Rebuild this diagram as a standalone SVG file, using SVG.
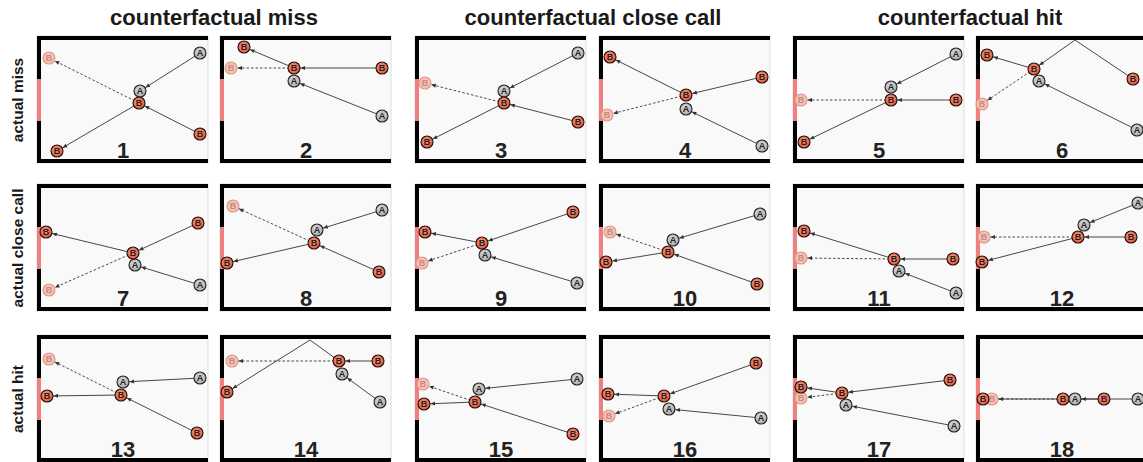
<svg xmlns="http://www.w3.org/2000/svg" width="1143" height="462" viewBox="0 0 1143 462">
<style>
.hd{font-family:"Liberation Sans",Arial,sans-serif;font-weight:bold;font-size:22px;fill:#1a1a1a;text-anchor:middle}
.rl{font-family:"Liberation Sans",Arial,sans-serif;font-weight:bold;font-size:15.5px;fill:#1a1a1a;text-anchor:middle}
.num{font-family:"Liberation Sans",Arial,sans-serif;font-weight:bold;font-size:22px;fill:#222;text-anchor:middle}
.bg{fill:#f9f9f9;stroke:#d4d4d4;stroke-width:0.8}
.wall{fill:#000}
.goal{fill:#f08080}
.c{fill:none;stroke:#333;stroke-width:0.9}
.d{fill:none;stroke:#333;stroke-width:0.9;stroke-dasharray:2.5 2}
.nA circle{fill:url(#gA);stroke:#222;stroke-width:1.1}
.nB circle{fill:url(#gB);stroke:#1d0f0c;stroke-width:1.1}
.nF circle{fill:#f6c2b5;stroke:#df9686;stroke-width:1.1}
.nA text,.nB text,.nF text{font-family:"Liberation Sans",Arial,sans-serif;font-weight:bold;font-size:9px;text-anchor:middle}
.nA text,.nB text{fill:#222}
.nF text{fill:#c48d82}
</style>
<defs>
<radialGradient id="gB" cx="0.45" cy="0.4" r="0.6"><stop offset="0" stop-color="#fa9a82"/><stop offset="1" stop-color="#ea5535"/></radialGradient>
<radialGradient id="gA" cx="0.45" cy="0.4" r="0.6"><stop offset="0" stop-color="#dedede"/><stop offset="1" stop-color="#a9a9a9"/></radialGradient>
<marker id="ah" markerUnits="userSpaceOnUse" orient="auto" overflow="visible" refX="0" refY="0" markerWidth="1" markerHeight="1">
<path d="M-6.5,0 L-11,-2 L-11,2 Z" fill="#333"/>
</marker>
</defs>

<g id="headers">
<text class="hd" x="214" y="25">counterfactual miss</text>
<text class="hd" x="593" y="25">counterfactual close call</text>
<text class="hd" x="970" y="25">counterfactual hit</text>
<text class="rl" transform="translate(23,100) rotate(-90)">actual miss</text>
<text class="rl" transform="translate(23,248) rotate(-90)">actual close call</text>
<text class="rl" transform="translate(23,399) rotate(-90)">actual hit</text>
</g>

<g id="frames">
<g id="f1"><rect class="bg" x="37" y="36" width="171" height="127"/><rect class="wall" x="37" y="36" width="171" height="4"/><rect class="wall" x="37" y="159" width="171" height="4"/><rect class="wall" x="37" y="36" width="4" height="127"/><rect class="goal" x="37" y="79" width="4" height="42"/><text class="num" x="123" y="158">1</text></g>
<g id="f2"><rect class="bg" x="220" y="36" width="171" height="127"/><rect class="wall" x="220" y="36" width="171" height="4"/><rect class="wall" x="220" y="159" width="171" height="4"/><rect class="wall" x="220" y="36" width="4" height="127"/><rect class="goal" x="220" y="79" width="4" height="42"/><text class="num" x="306" y="158">2</text></g>
<g id="f3"><rect class="bg" x="415" y="36" width="171" height="127"/><rect class="wall" x="415" y="36" width="171" height="4"/><rect class="wall" x="415" y="159" width="171" height="4"/><rect class="wall" x="415" y="36" width="4" height="127"/><rect class="goal" x="415" y="79" width="4" height="42"/><text class="num" x="501" y="158">3</text></g>
<g id="f4"><rect class="bg" x="599" y="36" width="171" height="127"/><rect class="wall" x="599" y="36" width="171" height="4"/><rect class="wall" x="599" y="159" width="171" height="4"/><rect class="wall" x="599" y="36" width="4" height="127"/><rect class="goal" x="599" y="79" width="4" height="42"/><text class="num" x="685" y="158">4</text></g>
<g id="f5"><rect class="bg" x="793" y="36" width="171" height="127"/><rect class="wall" x="793" y="36" width="171" height="4"/><rect class="wall" x="793" y="159" width="171" height="4"/><rect class="wall" x="793" y="36" width="4" height="127"/><rect class="goal" x="793" y="79" width="4" height="42"/><text class="num" x="879" y="158">5</text></g>
<g id="f6"><rect class="bg" x="976" y="36" width="171" height="127"/><rect class="wall" x="976" y="36" width="171" height="4"/><rect class="wall" x="976" y="159" width="171" height="4"/><rect class="wall" x="976" y="36" width="4" height="127"/><rect class="goal" x="976" y="79" width="4" height="42"/><text class="num" x="1062" y="158">6</text></g>

<g id="f7"><rect class="bg" x="37" y="184" width="171" height="127"/><rect class="wall" x="37" y="184" width="171" height="4"/><rect class="wall" x="37" y="307" width="171" height="4"/><rect class="wall" x="37" y="184" width="4" height="127"/><rect class="goal" x="37" y="227" width="4" height="42"/><text class="num" x="123" y="306">7</text></g>
<g id="f8"><rect class="bg" x="220" y="184" width="171" height="127"/><rect class="wall" x="220" y="184" width="171" height="4"/><rect class="wall" x="220" y="307" width="171" height="4"/><rect class="wall" x="220" y="184" width="4" height="127"/><rect class="goal" x="220" y="227" width="4" height="42"/><text class="num" x="306" y="306">8</text></g>
<g id="f9"><rect class="bg" x="415" y="184" width="171" height="127"/><rect class="wall" x="415" y="184" width="171" height="4"/><rect class="wall" x="415" y="307" width="171" height="4"/><rect class="wall" x="415" y="184" width="4" height="127"/><rect class="goal" x="415" y="227" width="4" height="42"/><text class="num" x="501" y="306">9</text></g>
<g id="f10"><rect class="bg" x="599" y="184" width="171" height="127"/><rect class="wall" x="599" y="184" width="171" height="4"/><rect class="wall" x="599" y="307" width="171" height="4"/><rect class="wall" x="599" y="184" width="4" height="127"/><rect class="goal" x="599" y="227" width="4" height="42"/><text class="num" x="685" y="306">10</text></g>
<g id="f11"><rect class="bg" x="793" y="184" width="171" height="127"/><rect class="wall" x="793" y="184" width="171" height="4"/><rect class="wall" x="793" y="307" width="171" height="4"/><rect class="wall" x="793" y="184" width="4" height="127"/><rect class="goal" x="793" y="227" width="4" height="42"/><text class="num" x="879" y="306">11</text></g>
<g id="f12"><rect class="bg" x="976" y="184" width="171" height="127"/><rect class="wall" x="976" y="184" width="171" height="4"/><rect class="wall" x="976" y="307" width="171" height="4"/><rect class="wall" x="976" y="184" width="4" height="127"/><rect class="goal" x="976" y="227" width="4" height="42"/><text class="num" x="1062" y="306">12</text></g>

<g id="f13"><rect class="bg" x="37" y="335" width="171" height="127"/><rect class="wall" x="37" y="335" width="171" height="4"/><rect class="wall" x="37" y="458" width="171" height="4"/><rect class="wall" x="37" y="335" width="4" height="127"/><rect class="goal" x="37" y="378" width="4" height="42"/><text class="num" x="123" y="457">13</text></g>
<g id="f14"><rect class="bg" x="220" y="335" width="171" height="127"/><rect class="wall" x="220" y="335" width="171" height="4"/><rect class="wall" x="220" y="458" width="171" height="4"/><rect class="wall" x="220" y="335" width="4" height="127"/><rect class="goal" x="220" y="378" width="4" height="42"/><text class="num" x="306" y="457">14</text></g>
<g id="f15"><rect class="bg" x="415" y="335" width="171" height="127"/><rect class="wall" x="415" y="335" width="171" height="4"/><rect class="wall" x="415" y="458" width="171" height="4"/><rect class="wall" x="415" y="335" width="4" height="127"/><rect class="goal" x="415" y="378" width="4" height="42"/><text class="num" x="501" y="457">15</text></g>
<g id="f16"><rect class="bg" x="599" y="335" width="171" height="127"/><rect class="wall" x="599" y="335" width="171" height="4"/><rect class="wall" x="599" y="458" width="171" height="4"/><rect class="wall" x="599" y="335" width="4" height="127"/><rect class="goal" x="599" y="378" width="4" height="42"/><text class="num" x="685" y="457">16</text></g>
<g id="f17"><rect class="bg" x="793" y="335" width="171" height="127"/><rect class="wall" x="793" y="335" width="171" height="4"/><rect class="wall" x="793" y="458" width="171" height="4"/><rect class="wall" x="793" y="335" width="4" height="127"/><rect class="goal" x="793" y="378" width="4" height="42"/><text class="num" x="879" y="457">17</text></g>
<g id="f18"><rect class="bg" x="976" y="335" width="171" height="127"/><rect class="wall" x="976" y="335" width="171" height="4"/><rect class="wall" x="976" y="458" width="171" height="4"/><rect class="wall" x="976" y="335" width="4" height="127"/><rect class="goal" x="976" y="378" width="4" height="42"/><text class="num" x="1062" y="457">18</text></g>
</g>

<g id="connectors">
<path class="c" d="M200,53 L140,91" marker-end="url(#ah)"/><path class="c" d="M200,134 L139,103" marker-end="url(#ah)"/><path class="c" d="M139,103 L57,151" marker-end="url(#ah)"/><path class="d" d="M139,103 L49,58" marker-end="url(#ah)"/>
<path class="c" d="M382,116 L294,81" marker-end="url(#ah)"/><path class="c" d="M382,68 L294,68" marker-end="url(#ah)"/><path class="c" d="M294,68 L244,47" marker-end="url(#ah)"/><path class="d" d="M294,68 L231,68" marker-end="url(#ah)"/>
<path class="c" d="M578,53 L504,91" marker-end="url(#ah)"/><path class="c" d="M578,122 L504,103" marker-end="url(#ah)"/><path class="c" d="M504,103 L427,142" marker-end="url(#ah)"/><path class="d" d="M504,103 L425,83" marker-end="url(#ah)"/>
<path class="c" d="M762,146 L686,109" marker-end="url(#ah)"/><path class="c" d="M762,77 L686,95" marker-end="url(#ah)"/><path class="c" d="M686,95 L610,57" marker-end="url(#ah)"/><path class="d" d="M686,95 L607,115" marker-end="url(#ah)"/>
<path class="c" d="M956,54 L891,87" marker-end="url(#ah)"/><path class="c" d="M956,100 L891,100" marker-end="url(#ah)"/><path class="c" d="M891,100 L804,142" marker-end="url(#ah)"/><path class="d" d="M891,100 L801,100" marker-end="url(#ah)"/>
<path class="c" d="M1137,130 L1039,81" marker-end="url(#ah)"/><path class="c" d="M1133,79 L1075,40 L1034,69" marker-end="url(#ah)"/><path class="c" d="M1034,69 L987,55" marker-end="url(#ah)"/><path class="d" d="M1034,69 L982,104" marker-end="url(#ah)"/>

<path class="c" d="M200,285 L135,265" marker-end="url(#ah)"/><path class="c" d="M198,223 L133,253" marker-end="url(#ah)"/><path class="c" d="M133,253 L46,232" marker-end="url(#ah)"/><path class="d" d="M133,253 L49,290" marker-end="url(#ah)"/>
<path class="c" d="M382,210 L317,230" marker-end="url(#ah)"/><path class="c" d="M379,272 L314,243" marker-end="url(#ah)"/><path class="c" d="M314,243 L227,263" marker-end="url(#ah)"/><path class="d" d="M314,243 L233,206" marker-end="url(#ah)"/>
<path class="c" d="M577,283 L485,255" marker-end="url(#ah)"/><path class="c" d="M573,212 L482,243" marker-end="url(#ah)"/><path class="c" d="M482,243 L425,232" marker-end="url(#ah)"/><path class="d" d="M482,243 L422,263" marker-end="url(#ah)"/>
<path class="c" d="M760,214 L673,240" marker-end="url(#ah)"/><path class="c" d="M757,284 L668,252" marker-end="url(#ah)"/><path class="c" d="M668,252 L606,262" marker-end="url(#ah)"/><path class="d" d="M668,252 L610,232" marker-end="url(#ah)"/>
<path class="c" d="M956,293 L899,271" marker-end="url(#ah)"/><path class="c" d="M953,259 L894,259" marker-end="url(#ah)"/><path class="c" d="M894,259 L804,231" marker-end="url(#ah)"/><path class="d" d="M894,259 L801,258" marker-end="url(#ah)"/>
<path class="c" d="M1138,203 L1084,225" marker-end="url(#ah)"/><path class="c" d="M1131,237 L1078,237" marker-end="url(#ah)"/><path class="c" d="M1078,237 L982,262" marker-end="url(#ah)"/><path class="d" d="M1078,237 L984,237" marker-end="url(#ah)"/>

<path class="c" d="M200,378 L123,382" marker-end="url(#ah)"/><path class="c" d="M197,433 L121,395" marker-end="url(#ah)"/><path class="c" d="M121,395 L47,396" marker-end="url(#ah)"/><path class="d" d="M121,395 L49,359" marker-end="url(#ah)"/>
<path class="c" d="M380,402 L342,374" marker-end="url(#ah)"/><path class="c" d="M378,361 L339,361" marker-end="url(#ah)"/><path class="c" d="M339,361 L310,340 L227,392" marker-end="url(#ah)"/><path class="d" d="M339,361 L232,361" marker-end="url(#ah)"/>
<path class="c" d="M577,379 L479,389" marker-end="url(#ah)"/><path class="c" d="M573,434 L475,402" marker-end="url(#ah)"/><path class="c" d="M475,402 L424,404" marker-end="url(#ah)"/><path class="d" d="M475,402 L423,384" marker-end="url(#ah)"/>
<path class="c" d="M761,418 L669,409" marker-end="url(#ah)"/><path class="c" d="M756,363 L664,396" marker-end="url(#ah)"/><path class="c" d="M664,396 L608,394" marker-end="url(#ah)"/><path class="d" d="M664,396 L609,416" marker-end="url(#ah)"/>
<path class="c" d="M954,426 L846,405" marker-end="url(#ah)"/><path class="c" d="M950,380 L842,393" marker-end="url(#ah)"/><path class="c" d="M842,393 L801,387" marker-end="url(#ah)"/><path class="d" d="M842,393 L801,398" marker-end="url(#ah)"/>
<path class="c" d="M1138,399 L1075,399" marker-end="url(#ah)"/><path class="c" d="M1104,399 L1063,399" marker-end="url(#ah)"/><path class="c" d="M1063,399 L983,399" marker-end="url(#ah)"/><path class="d" d="M1063,399 L992,399" marker-end="url(#ah)"/>
</g>

<g id="nodes">
<g id="n1bf" class="nF"><circle cx="49" cy="58" r="6"/><text x="49" y="61.2">B</text></g>
<g id="n1a1" class="nA"><circle cx="200" cy="53" r="6"/><text x="200" y="56.2">A</text></g>
<g id="n1a2" class="nA"><circle cx="140" cy="91" r="6"/><text x="140" y="94.2">A</text></g>
<g id="n1b2" class="nB"><circle cx="139" cy="103" r="6"/><text x="139" y="106.2">B</text></g>
<g id="n1b1" class="nB"><circle cx="200" cy="134" r="6"/><text x="200" y="137.2">B</text></g>
<g id="n1bs" class="nB"><circle cx="57" cy="151" r="6"/><text x="57" y="154.2">B</text></g>

<g id="n2bf" class="nF"><circle cx="231" cy="68" r="6"/><text x="231" y="71.2">B</text></g>
<g id="n2bs" class="nB"><circle cx="244" cy="47" r="6"/><text x="244" y="50.2">B</text></g>
<g id="n2a2" class="nA"><circle cx="294" cy="81" r="6"/><text x="294" y="84.2">A</text></g>
<g id="n2b2" class="nB"><circle cx="294" cy="68" r="6"/><text x="294" y="71.2">B</text></g>
<g id="n2b1" class="nB"><circle cx="382" cy="68" r="6"/><text x="382" y="71.2">B</text></g>
<g id="n2a1" class="nA"><circle cx="382" cy="116" r="6"/><text x="382" y="119.2">A</text></g>

<g id="n3bf" class="nF"><circle cx="425" cy="83" r="6"/><text x="425" y="86.2">B</text></g>
<g id="n3a1" class="nA"><circle cx="578" cy="53" r="6"/><text x="578" y="56.2">A</text></g>
<g id="n3a2" class="nA"><circle cx="504" cy="91" r="6"/><text x="504" y="94.2">A</text></g>
<g id="n3b2" class="nB"><circle cx="504" cy="103" r="6"/><text x="504" y="106.2">B</text></g>
<g id="n3b1" class="nB"><circle cx="578" cy="122" r="6"/><text x="578" y="125.2">B</text></g>
<g id="n3bs" class="nB"><circle cx="427" cy="142" r="6"/><text x="427" y="145.2">B</text></g>

<g id="n4bf" class="nF"><circle cx="607" cy="115" r="6"/><text x="607" y="118.2">B</text></g>
<g id="n4bs" class="nB"><circle cx="610" cy="57" r="6"/><text x="610" y="60.2">B</text></g>
<g id="n4b1" class="nB"><circle cx="762" cy="77" r="6"/><text x="762" y="80.2">B</text></g>
<g id="n4a2" class="nA"><circle cx="686" cy="109" r="6"/><text x="686" y="112.2">A</text></g>
<g id="n4b2" class="nB"><circle cx="686" cy="95" r="6"/><text x="686" y="98.2">B</text></g>
<g id="n4a1" class="nA"><circle cx="762" cy="146" r="6"/><text x="762" y="149.2">A</text></g>

<g id="n5bf" class="nF"><circle cx="801" cy="100" r="6"/><text x="801" y="103.2">B</text></g>
<g id="n5a1" class="nA"><circle cx="956" cy="54" r="6"/><text x="956" y="57.2">A</text></g>
<g id="n5a2" class="nA"><circle cx="891" cy="87" r="6"/><text x="891" y="90.2">A</text></g>
<g id="n5b2" class="nB"><circle cx="891" cy="100" r="6"/><text x="891" y="103.2">B</text></g>
<g id="n5b1" class="nB"><circle cx="956" cy="100" r="6"/><text x="956" y="103.2">B</text></g>
<g id="n5bs" class="nB"><circle cx="804" cy="142" r="6"/><text x="804" y="145.2">B</text></g>

<g id="n6bf" class="nF"><circle cx="982" cy="104" r="6"/><text x="982" y="107.2">B</text></g>
<g id="n6bs" class="nB"><circle cx="987" cy="55" r="6"/><text x="987" y="58.2">B</text></g>
<g id="n6a2" class="nA"><circle cx="1039" cy="81" r="6"/><text x="1039" y="84.2">A</text></g>
<g id="n6b2" class="nB"><circle cx="1034" cy="69" r="6"/><text x="1034" y="72.2">B</text></g>
<g id="n6b1" class="nB"><circle cx="1133" cy="79" r="6"/><text x="1133" y="82.2">B</text></g>
<g id="n6a1" class="nA"><circle cx="1137" cy="130" r="6"/><text x="1137" y="133.2">A</text></g>

<g id="n7bf" class="nF"><circle cx="49" cy="290" r="6"/><text x="49" y="293.2">B</text></g>
<g id="n7bs" class="nB"><circle cx="46" cy="232" r="6"/><text x="46" y="235.2">B</text></g>
<g id="n7b1" class="nB"><circle cx="198" cy="223" r="6"/><text x="198" y="226.2">B</text></g>
<g id="n7a2" class="nA"><circle cx="135" cy="265" r="6"/><text x="135" y="268.2">A</text></g>
<g id="n7b2" class="nB"><circle cx="133" cy="253" r="6"/><text x="133" y="256.2">B</text></g>
<g id="n7a1" class="nA"><circle cx="200" cy="285" r="6"/><text x="200" y="288.2">A</text></g>

<g id="n8bf" class="nF"><circle cx="233" cy="206" r="6"/><text x="233" y="209.2">B</text></g>
<g id="n8a1" class="nA"><circle cx="382" cy="210" r="6"/><text x="382" y="213.2">A</text></g>
<g id="n8a2" class="nA"><circle cx="317" cy="230" r="6"/><text x="317" y="233.2">A</text></g>
<g id="n8b2" class="nB"><circle cx="314" cy="243" r="6"/><text x="314" y="246.2">B</text></g>
<g id="n8bs" class="nB"><circle cx="227" cy="263" r="6"/><text x="227" y="266.2">B</text></g>
<g id="n8b1" class="nB"><circle cx="379" cy="272" r="6"/><text x="379" y="275.2">B</text></g>

<g id="n9bf" class="nF"><circle cx="422" cy="263" r="6"/><text x="422" y="266.2">B</text></g>
<g id="n9b1" class="nB"><circle cx="573" cy="212" r="6"/><text x="573" y="215.2">B</text></g>
<g id="n9bs" class="nB"><circle cx="425" cy="232" r="6"/><text x="425" y="235.2">B</text></g>
<g id="n9a2" class="nA"><circle cx="485" cy="255" r="6"/><text x="485" y="258.2">A</text></g>
<g id="n9b2" class="nB"><circle cx="482" cy="243" r="6"/><text x="482" y="246.2">B</text></g>
<g id="n9a1" class="nA"><circle cx="577" cy="283" r="6"/><text x="577" y="286.2">A</text></g>

<g id="n10bf" class="nF"><circle cx="610" cy="232" r="6"/><text x="610" y="235.2">B</text></g>
<g id="n10a1" class="nA"><circle cx="760" cy="214" r="6"/><text x="760" y="217.2">A</text></g>
<g id="n10a2" class="nA"><circle cx="673" cy="240" r="6"/><text x="673" y="243.2">A</text></g>
<g id="n10b2" class="nB"><circle cx="668" cy="252" r="6"/><text x="668" y="255.2">B</text></g>
<g id="n10bs" class="nB"><circle cx="606" cy="262" r="6"/><text x="606" y="265.2">B</text></g>
<g id="n10b1" class="nB"><circle cx="757" cy="284" r="6"/><text x="757" y="287.2">B</text></g>

<g id="n11bf" class="nF"><circle cx="801" cy="258" r="6"/><text x="801" y="261.2">B</text></g>
<g id="n11bs" class="nB"><circle cx="804" cy="231" r="6"/><text x="804" y="234.2">B</text></g>
<g id="n11a2" class="nA"><circle cx="899" cy="271" r="6"/><text x="899" y="274.2">A</text></g>
<g id="n11b2" class="nB"><circle cx="894" cy="259" r="6"/><text x="894" y="262.2">B</text></g>
<g id="n11b1" class="nB"><circle cx="953" cy="259" r="6"/><text x="953" y="262.2">B</text></g>
<g id="n11a1" class="nA"><circle cx="956" cy="293" r="6"/><text x="956" y="296.2">A</text></g>

<g id="n12bf" class="nF"><circle cx="984" cy="237" r="6"/><text x="984" y="240.2">B</text></g>
<g id="n12a1" class="nA"><circle cx="1138" cy="203" r="6"/><text x="1138" y="206.2">A</text></g>
<g id="n12a2" class="nA"><circle cx="1084" cy="225" r="6"/><text x="1084" y="228.2">A</text></g>
<g id="n12b2" class="nB"><circle cx="1078" cy="237" r="6"/><text x="1078" y="240.2">B</text></g>
<g id="n12b1" class="nB"><circle cx="1131" cy="237" r="6"/><text x="1131" y="240.2">B</text></g>
<g id="n12bs" class="nB"><circle cx="982" cy="262" r="6"/><text x="982" y="265.2">B</text></g>

<g id="n13bf" class="nF"><circle cx="49" cy="359" r="6"/><text x="49" y="362.2">B</text></g>
<g id="n13a2" class="nA"><circle cx="123" cy="382" r="6"/><text x="123" y="385.2">A</text></g>
<g id="n13a1" class="nA"><circle cx="200" cy="378" r="6"/><text x="200" y="381.2">A</text></g>
<g id="n13b2" class="nB"><circle cx="121" cy="395" r="6"/><text x="121" y="398.2">B</text></g>
<g id="n13bs" class="nB"><circle cx="47" cy="396" r="6"/><text x="47" y="399.2">B</text></g>
<g id="n13b1" class="nB"><circle cx="197" cy="433" r="6"/><text x="197" y="436.2">B</text></g>

<g id="n14bf" class="nF"><circle cx="232" cy="361" r="6"/><text x="232" y="364.2">B</text></g>
<g id="n14a2" class="nA"><circle cx="342" cy="374" r="6"/><text x="342" y="377.2">A</text></g>
<g id="n14b2" class="nB"><circle cx="339" cy="361" r="6"/><text x="339" y="364.2">B</text></g>
<g id="n14b1" class="nB"><circle cx="378" cy="361" r="6"/><text x="378" y="364.2">B</text></g>
<g id="n14a1" class="nA"><circle cx="380" cy="402" r="6"/><text x="380" y="405.2">A</text></g>
<g id="n14bs" class="nB"><circle cx="227" cy="392" r="6"/><text x="227" y="395.2">B</text></g>

<g id="n15bf" class="nF"><circle cx="423" cy="384" r="6"/><text x="423" y="387.2">B</text></g>
<g id="n15a2" class="nA"><circle cx="479" cy="389" r="6"/><text x="479" y="392.2">A</text></g>
<g id="n15a1" class="nA"><circle cx="577" cy="379" r="6"/><text x="577" y="382.2">A</text></g>
<g id="n15b2" class="nB"><circle cx="475" cy="402" r="6"/><text x="475" y="405.2">B</text></g>
<g id="n15bs" class="nB"><circle cx="424" cy="404" r="6"/><text x="424" y="407.2">B</text></g>
<g id="n15b1" class="nB"><circle cx="573" cy="434" r="6"/><text x="573" y="437.2">B</text></g>

<g id="n16bf" class="nF"><circle cx="609" cy="416" r="6"/><text x="609" y="419.2">B</text></g>
<g id="n16b1" class="nB"><circle cx="756" cy="363" r="6"/><text x="756" y="366.2">B</text></g>
<g id="n16bs" class="nB"><circle cx="608" cy="394" r="6"/><text x="608" y="397.2">B</text></g>
<g id="n16a2" class="nA"><circle cx="669" cy="409" r="6"/><text x="669" y="412.2">A</text></g>
<g id="n16b2" class="nB"><circle cx="664" cy="396" r="6"/><text x="664" y="399.2">B</text></g>
<g id="n16a1" class="nA"><circle cx="761" cy="418" r="6"/><text x="761" y="421.2">A</text></g>

<g id="n17bf" class="nF"><circle cx="801" cy="398" r="6"/><text x="801" y="401.2">B</text></g>
<g id="n17bs" class="nB"><circle cx="801" cy="387" r="6"/><text x="801" y="390.2">B</text></g>
<g id="n17a2" class="nA"><circle cx="846" cy="405" r="6"/><text x="846" y="408.2">A</text></g>
<g id="n17b2" class="nB"><circle cx="842" cy="393" r="6"/><text x="842" y="396.2">B</text></g>
<g id="n17b1" class="nB"><circle cx="950" cy="380" r="6"/><text x="950" y="383.2">B</text></g>
<g id="n17a1" class="nA"><circle cx="954" cy="426" r="6"/><text x="954" y="429.2">A</text></g>

<g id="n18bf" class="nF"><circle cx="992" cy="399" r="6"/><text x="992" y="402.2">B</text></g>
<g id="n18bs" class="nB"><circle cx="983" cy="399" r="6"/><text x="983" y="402.2">B</text></g>
<g id="n18b2" class="nB"><circle cx="1063" cy="399" r="6"/><text x="1063" y="402.2">B</text></g>
<g id="n18a2" class="nA"><circle cx="1075" cy="399" r="6"/><text x="1075" y="402.2">A</text></g>
<g id="n18b1" class="nB"><circle cx="1104" cy="399" r="6"/><text x="1104" y="402.2">B</text></g>
<g id="n18a1" class="nA"><circle cx="1138" cy="399" r="6"/><text x="1138" y="402.2">A</text></g>
</g>
</svg>
